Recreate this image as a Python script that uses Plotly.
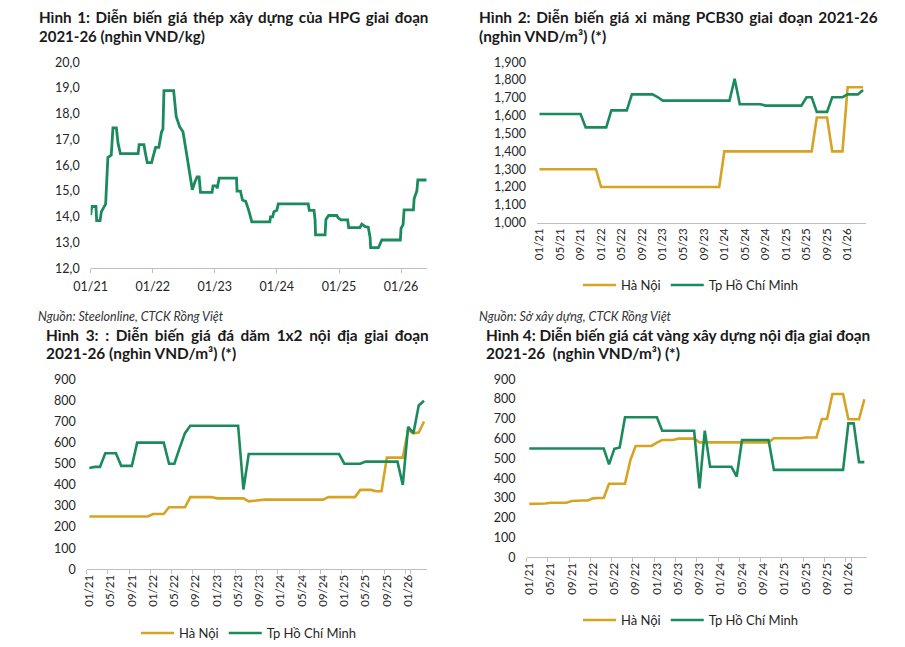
import plotly.graph_objects as go

# ---------------- DATA ----------------
# Hình 1: HPG steel price (nghìn VND/kg)
c1_dates = ["2021-01-01", "2021-01-07", "2021-02-01", "2021-02-05", "2021-02-25", "2021-03-05",
            "2021-03-30", "2021-04-12", "2021-05-02", "2021-05-12", "2021-06-01", "2021-06-11",
            "2021-06-25", "2021-10-07", "2021-10-13", "2021-11-10", "2021-11-18", "2021-11-30",
            "2021-12-25", "2022-01-04", "2022-01-18", "2022-02-06", "2022-02-22", "2022-03-02",
            "2022-03-08", "2022-05-04", "2022-05-19", "2022-06-08", "2022-06-28", "2022-07-18",
            "2022-08-06", "2022-08-22", "2022-09-06", "2022-09-19", "2022-10-01", "2022-10-09",
            "2022-12-16", "2022-12-22", "2023-01-12", "2023-01-15", "2023-01-27", "2023-05-09",
            "2023-05-12", "2023-06-01", "2023-06-13", "2023-07-02", "2023-07-22", "2023-08-07",
            "2023-11-21", "2023-11-25", "2023-12-07", "2023-12-15", "2024-01-01", "2024-01-10",
            "2024-07-04", "2024-07-10", "2024-08-07", "2024-08-13", "2024-08-16", "2024-10-11",
            "2024-10-16", "2024-11-01", "2024-12-19", "2024-12-28", "2025-01-09", "2025-01-12",
            "2025-02-21", "2025-02-27", "2025-05-04", "2025-05-15", "2025-06-04", "2025-06-22",
            "2025-07-03", "2025-07-06", "2025-08-21", "2025-09-01", "2025-09-10", "2025-12-28",
            "2026-01-01", "2026-01-13", "2026-01-19", "2026-03-15", "2026-03-19", "2026-04-04",
            "2026-04-10", "2026-06-01"]
c1_vals = [14.07, 14.40, 14.40, 13.85, 13.85, 14.20,
           14.50, 16.30, 16.40, 17.45, 17.45, 16.85,
           16.45, 16.45, 16.80, 16.80, 16.50, 16.10,
           16.10, 16.40, 16.70, 16.70, 17.30, 17.40,
           18.90, 18.90, 17.90, 17.50, 17.30, 16.50,
           15.80, 15.05, 15.35, 15.55, 15.55, 14.95,
           14.95, 15.20, 15.20, 15.10, 15.50, 15.50,
           15.00, 15.00, 14.65, 14.60, 14.20, 13.80,
           13.80, 14.00, 14.00, 14.20, 14.25, 14.50,
           14.50, 14.25, 14.25, 13.90, 13.30, 13.30,
           13.90, 14.05, 14.05, 13.95, 13.90, 13.88,
           13.88, 13.58, 13.58, 13.72, 13.62, 13.60,
           13.20, 12.80, 12.80, 13.00, 13.10, 13.10,
           13.55, 13.70, 14.27, 14.27, 14.70, 15.00,
           15.43, 15.43]
c1_yticks = [12, 13, 14, 15, 16, 17, 18, 19, 20]
c1_yticktext = ["12,0", "13,0", "14,0", "15,0", "16,0", "17,0", "18,0", "19,0", "20,0"]

# Monthly categories 01/21 .. 04/26 (charts 2-4)
months = ["01/21", "02/21", "03/21", "04/21", "05/21", "06/21", "07/21", "08/21", "09/21", "10/21", "11/21", "12/21",
          "01/22", "02/22", "03/22", "04/22", "05/22", "06/22", "07/22", "08/22", "09/22", "10/22", "11/22", "12/22",
          "01/23", "02/23", "03/23", "04/23", "05/23", "06/23", "07/23", "08/23", "09/23", "10/23", "11/23", "12/23",
          "01/24", "02/24", "03/24", "04/24", "05/24", "06/24", "07/24", "08/24", "09/24", "10/24", "11/24", "12/24",
          "01/25", "02/25", "03/25", "04/25", "05/25", "06/25", "07/25", "08/25", "09/25", "10/25", "11/25", "12/25",
          "01/26", "02/26", "03/26", "04/26"]
month_ticks = ["01/21", "05/21", "09/21", "01/22", "05/22", "09/22", "01/23", "05/23",
               "09/23", "01/24", "05/24", "09/24", "01/25", "05/25", "09/25", "01/26"]

# Hình 2: xi măng PCB30
c2_hanoi = ([1300] * 12 + [1200] * 24 + [1400] * 18 + [1590] * 3 + [1400] * 3 + [1760] * 4)
c2_hcm = ([1610] * 9 + [1535] * 5 + [1630] * 4 + [1720] * 5 + [1705] + [1685] * 14 + [1808]
          + [1665] * 5 + [1657] * 8 + [1704] * 2 + [1622] * 3 + [1704] * 3 + [1720] * 3 + [1745])
c2_yticks = [1000, 1100, 1200, 1300, 1400, 1500, 1600, 1700, 1800, 1900]
c2_yticktext = ["1,000", "1,100", "1,200", "1,300", "1,400", "1,500", "1,600", "1,700", "1,800", "1,900"]

# Hình 3: đá dăm 1x2
c3_hanoi = ([250] * 12 + [262] * 3 + [294] * 4 + [342] * 5 + [336] * 6 + [322, 325] + [330] * 13
            + [342] * 6 + [376] * 3 + [370] * 2 + [529] * 4 + [660, 644, 648, 700])
c3_hcm = ([480, 485, 485] + [550] * 3 + [490] * 3 + [600] * 6 + [500] * 2 + [575, 645] + [680] * 10
          + [378] + [546] * 18 + [500] * 4 + [510] * 7 + [400, 675, 645, 776, 798])

# Hình 4: cát vàng
c4_hanoi = ([270] * 3 + [272] + [276] * 4 + [285] + [287] * 3 + [298] + [300] * 2 + [372] * 4 + [490]
            + [563] * 4 + [580] + [593] * 3 + [600] * 4 + [581] * 14 + [602] * 6 + [606] * 3 + [698, 700]
            + [826] * 3 + [698] * 3 + [799])
c4_hcm = ([550] * 15 + [470, 548, 555] + [708] * 7 + [640] * 7 + [349, 640] + [458] * 5 + [408]
          + [593] * 6 + [442] * 14 + [677] * 2 + [481] * 2)
c34_yticks = [0, 100, 200, 300, 400, 500, 600, 700, 800, 900]

# ---------------- STYLE ----------------
W, H = 905, 647
GREEN = "#1b8a5c"
GOLD = "#d6a422"
AXIS = "#bfbfbf"
TXT = "#262626"
FONT = "Lato"


def px(x):
    return x / W


def py(y):
    return 1 - y / H


fig = go.Figure()

fig.add_trace(go.Scatter(x=c1_dates, y=c1_vals, mode="lines", line=dict(color=GREEN, width=2.8),
                         xaxis="x", yaxis="y", showlegend=False))

for (hn, hcm, xa, ya, lg) in [(c2_hanoi, c2_hcm, "x2", "y2", "legend"),
                              (c3_hanoi, c3_hcm, "x3", "y3", "legend2"),
                              (c4_hanoi, c4_hcm, "x4", "y4", "legend3")]:
    fig.add_trace(go.Scatter(x=months, y=hn, mode="lines", name="Hà Nội",
                             line=dict(color=GOLD, width=2.6), xaxis=xa, yaxis=ya, legend=lg))
    fig.add_trace(go.Scatter(x=months, y=hcm, mode="lines", name="Tp Hồ Chí Minh",
                             line=dict(color=GREEN, width=2.6), xaxis=xa, yaxis=ya, legend=lg))

tickfont = dict(family=FONT, size=12.5, color=TXT)
rotfont = dict(family=FONT, size=11.5, color=TXT)


def yax(dom, rng, tv, tt, anchor):
    return dict(domain=dom, range=rng, tickvals=tv, ticktext=tt, showgrid=False, zeroline=False,
                showline=False, ticks="", tickfont=tickfont, anchor=anchor, ticklabelstandoff=10,
                fixedrange=True, automargin=False)


def xcat(dom, anchor, ticks):
    return dict(domain=dom, type="category", range=[-0.5, 63.5], tickmode="array",
                tickvals=month_ticks, ticktext=month_ticks, tickangle=-90, tickson="boundaries",
                ticks=ticks, ticklen=4, tickcolor=AXIS, showline=True, linecolor=AXIS, linewidth=1,
                showgrid=False, zeroline=False, tickfont=rotfont, anchor=anchor, fixedrange=True,
                automargin=False)


layout = dict(
    width=W, height=H, margin=dict(l=0, r=0, t=0, b=0, autoexpand=False), autosize=False,
    paper_bgcolor="white", plot_bgcolor="white",
    font=dict(family=FONT, color=TXT),
    xaxis=dict(domain=[px(90.7), px(426.7)], type="date", range=["2021-01-01", "2026-06-01"],
               tick0="2021-01-01", dtick="M12", tickformat="%m/%y", ticks="outside", ticklen=4,
               tickcolor=AXIS, showline=True, linecolor=AXIS, linewidth=1, showgrid=False,
               zeroline=False, tickfont=tickfont, anchor="y", fixedrange=True, automargin=False,
               ticklabelstandoff=3),
    yaxis=yax([py(268.3), py(62.3)], [12, 20], c1_yticks, c1_yticktext, "x"),
    xaxis2=xcat([px(536.9), px(865.6)], "y2", ""),
    yaxis2=yax([py(222.7), py(62.3)], [1000, 1900], c2_yticks, c2_yticktext, "x2"),
    xaxis3=xcat([px(86.7), px(426.7)], "y3", "outside"),
    yaxis3=yax([py(569.3), py(379.3)], [0, 900], c34_yticks, [str(v) for v in c34_yticks], "x3"),
    xaxis4=xcat([px(526.6), px(867.0)], "y4", "outside"),
    yaxis4=yax([py(557.3), py(379.3)], [0, 900], c34_yticks, [str(v) for v in c34_yticks], "x4"),
)

legfont = dict(family=FONT, size=13, color=TXT)
for key, lx, ly in [("legend", 578, 285), ("legend2", 136, 633), ("legend3", 578, 620)]:
    layout[key] = dict(orientation="h", x=px(lx), y=py(ly), xanchor="left", yanchor="middle",
                       font=legfont, bgcolor="rgba(0,0,0,0)", itemwidth=33,
                       itemclick=False, itemdoubleclick=False)

fig.update_layout(**layout)

TS = "\u2009"   # thin space, approximates the justified first title lines
HS = "\u200a"   # hair space
titles = [
    (("Hình 1: Diễn biến giá thép xây dựng của HPG giai đoạn").replace(" ", " " + TS), 37, 17, 15.2),
    ("2021-26 (nghìn VND/kg)", 37, 36, 15.0),
    (("Hình 2: Diễn biến giá xi măng PCB30 giai đoạn 2021-26").replace(" ", " " + TS), 477, 17, 15.4),
    ("(nghìn VND/m³) (*)", 477, 36, 15.4),
    (("Hình 3: : Diễn biến giá đá dăm 1x2 nội địa giai đoạn").replace(" ", " " + TS + HS), 44, 335, 15.4),
    ("2021-26 (nghìn VND/m³) (*)", 44, 353, 15.4),
    ("Hình 4: Diễn biến giá cát vàng xây dựng nội địa giai đoạn", 484, 335, 15.4),
    ("2021-26  (nghìn VND/m³) (*)", 484, 353, 15.4),
]
for text, x, y, fs in titles:
    fig.add_annotation(text="<b>" + text + "</b>", x=px(x), y=py(y), xref="paper", yref="paper",
                       xanchor="left", yanchor="middle", align="left", showarrow=False,
                       font=dict(family=FONT, size=fs, color="#1a1a1a"))

sources = [("Nguồn: Steelonline, CTCK Rồng Việt", 36, 317),
           ("Nguồn: Sở xây dựng, CTCK Rồng Việt", 477, 317)]
for text, x, y in sources:
    fig.add_annotation(text="<i>" + text + "</i>", x=px(x), y=py(y), xref="paper", yref="paper",
                       xanchor="left", yanchor="middle", align="left", showarrow=False,
                       font=dict(family=FONT, size=12.5, color="#333333"))

fig.write_html("out.html", config={"displayModeBar": False, "staticPlot": True})
